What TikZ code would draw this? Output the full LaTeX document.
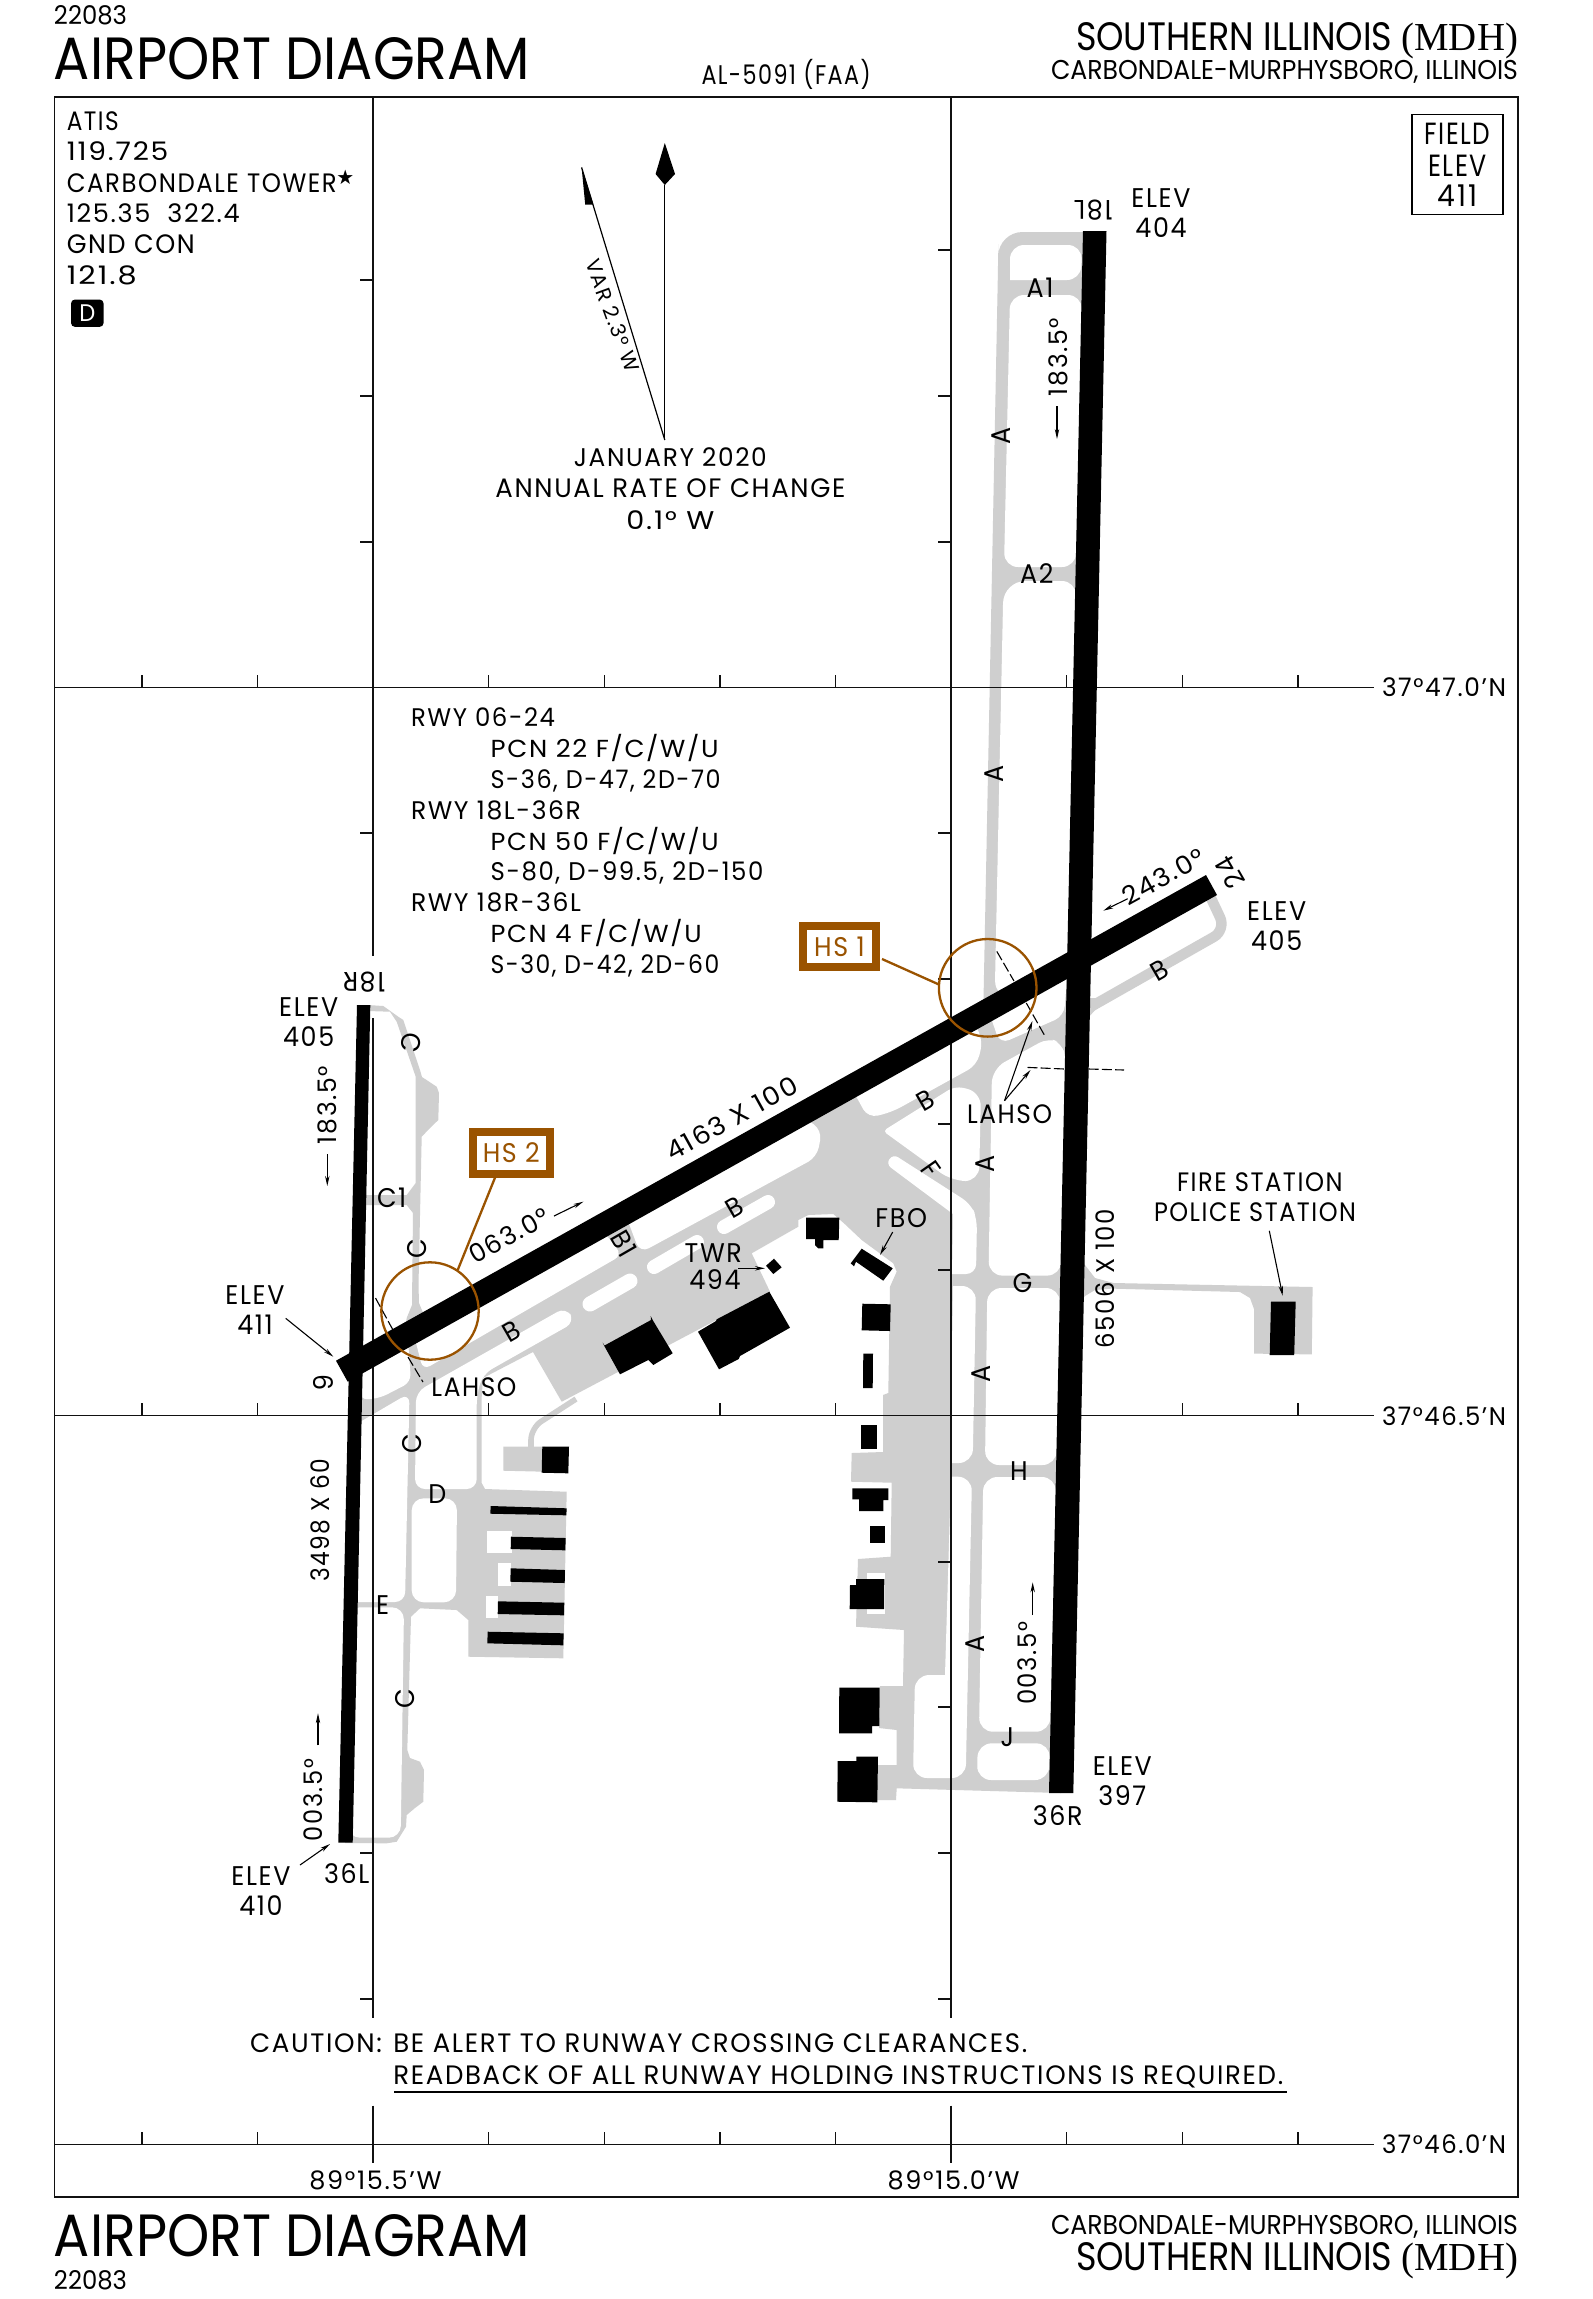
\documentclass[tikz,border=0pt]{standalone}
\usepackage{fontspec}
\usepackage{graphicx}
\usetikzlibrary{arrows.meta}
\setmainfont[FakeStretch=0.94,LetterSpace=6,Numbers=Monospaced]{Poppins}
\newfontfamily\tight[FakeStretch=0.9]{Poppins}
\newfontfamily\mdhfont{Liberation Serif}
\newfontfamily\symfont{DejaVu Sans}
\definecolor{tx}{HTML}{CFCFCF}
\definecolor{hs}{HTML}{9A5300}
\definecolor{ink}{HTML}{111111}
\newcounter{tn}
\tikzset{
  lbl/.style={inner sep=0pt,outer sep=0pt,text=black,font=\fontsize{13.5}{13.5}\selectfont},
  gridln/.style={draw=ink,line width=0.7pt},
  lead/.style={draw=black,line width=0.55pt,-{Stealth[length=5pt,width=2.2pt]}},
  holdln/.style={draw=black,line width=0.55pt,dash pattern=on 5pt off 1.6pt},
  hsln/.style={draw=hs,line width=1.15pt},
}
\newcommand{\TT}[4][]{\stepcounter{tn}\node[lbl,name=t\arabic{tn},#1] at (#2,#3) {#4};}
\newcommand{\TB}[4][]{\stepcounter{tn}\node[lbl,anchor=base,name=t\arabic{tn},#1] at (#2,#3) {#4};}
\newcommand{\TL}[4][]{\stepcounter{tn}\node[lbl,anchor=base west,name=t\arabic{tn},#1] at (#2,#3) {#4};}
\newcommand{\TR}[4][]{\stepcounter{tn}\node[lbl,anchor=base east,name=t\arabic{tn},#1] at (#2,#3) {#4};}
\newcommand{\rsz}[3]{\resizebox{#1pt}{#2pt}{#3}}
\newcommand{\rf}[2]{\resizebox{#1pt}{9.4pt}{#2}}
\begin{document}
\begin{tikzpicture}[x=0.5pt,y=-0.5pt]
\useasboundingbox (0,0) rectangle (1593,2299);
\fill[white] (0,0) rectangle (1593,2299);

%% ---- taxiways, aprons: grey outlines ----
\fill[tx,rounded corners=12pt] (1095,232) -- (998.5,232) -- (998,268) [sharp corners] -- (983.5,1000) -- (985,1012) -- (1079,959) -- cycle;
\fill[tx] (1079,959) -- (1061,1793) -- (896.7,1788.3) -- (896,1800) -- (876.7,1800) -- (878,1765) -- (896.7,1765) -- (896.7,1730) -- (879,1728) -- (880,1686) -- (903,1686) -- (904,1630) -- (856,1626.7)
  -- (858,1559) -- (890.7,1556.7) -- (891.7,1482.7) -- (851,1481.7) -- (851.7,1453) -- (883,1452) -- (883,1395) -- (888.3,1393) -- (890,1286.7) -- (896.7,1271.7) -- (893.3,1263.3) -- (861.7,1240) -- (844,1223.3) -- (833.3,1214) -- (808.3,1215) -- (798.3,1220) -- (798.3,1226.7) -- (751.7,1253.3) -- (770,1291.7)
  -- (561.7,1401.7) -- (533,1352) -- (483,1378) -- (481.7,1397) -- (481.7,1483) -- (485,1489) -- (566.7,1491.7) -- (563.3,1658.3) -- (468.3,1656.7) -- (468.3,1620) -- (456.7,1610) -- (420,1608.3) -- (411,1616.7) -- (407.3,1750) -- (410,1758) -- (420,1761.7) -- (424,1770) -- (423.3,1801.7) -- (415,1808) -- (406.7,1815) -- (406,1826.7) -- (396.7,1841.7) -- (386.7,1843.3) -- (345,1843) -- (350,1369) -- cycle;
% C north of runway 06-24
\fill[tx] (368,1005) -- (383.3,1006) -- (398.3,1016.7) -- (403.3,1020) -- (420,1070) -- (422,1077) -- (436.7,1086.7) -- (439,1093) -- (438.3,1120) -- (430,1128) -- (421.7,1136.7) -- (418.5,1285) -- (419,1303) -- (424,1315) -- (405,1330) -- (406.7,1318) -- (412,1305) -- (413,1213) -- (406.7,1205) -- (362,1205) -- (362,1195) -- (406.7,1195) -- (415.7,1183) -- (415.7,1076.7) -- (396.7,1021.7) -- (390,1011.7) -- (368,1011) -- cycle;
% B east of 18L
\draw[tx,line width=5.2pt,rounded corners=7pt] (1085,1010) -- (1226,930) -- (1210,896);
\fill[tx] (1080,998) -- (1100,998) -- (1096,1009) -- (1088,1018) -- (1080,1030) -- cycle;
% G east and fire station apron
\fill[tx] (1078,1262) -- (1085,1265) -- (1095,1278) -- (1113.6,1283) -- (1312.6,1287) -- (1311.8,1354.4) -- (1254,1353.6) -- (1254,1309) -- (1250,1298) -- (1240,1292) -- (1111.6,1288.6) -- (1095,1290) -- (1085,1296) -- (1078,1305) -- cycle;
% taxi to the T-hangar block
\draw[tx,line width=2.8pt,rounded corners=6pt] (531,1450) -- (531,1428) -- (576,1399);
\fill[tx] (503.3,1446.7) -- (545,1446.7) -- (545,1471.7) -- (503.3,1470.7) -- cycle;

%% ---- islands ----
\begin{scope}[white]
\fill[rounded corners=7pt] (1010,280) [sharp corners] -- (1010,280) [rounded corners=7pt] -- (1010,245) -- (1082,245) -- (1081,280) [sharp corners] -- cycle;
\fill[rounded corners=7pt] (1010,295) -- (1082,295) -- (1076,567) -- (1004,567) -- cycle;
\fill[rounded corners=7pt] (1003.5,581) -- (1076,581) -- (1074,961) [rounded corners=11pt] -- (994.6,1002) -- cycle;
\fill[rounded corners=5pt] (988,1009) -- (1000,1044) -- (1064,1016) -- (1068,965) -- cycle;
\fill[rounded corners=5pt] (992,1069) -- (1048,1038) -- (1062,1043) -- (1066,1060) [rounded corners=7pt] -- (1061,1275.6) -- (988.5,1275.6) -- cycle;
\fill[rounded corners=7pt] (987.3,1288) -- (1060,1288) -- (1056.5,1465) -- (985,1465) -- cycle;
\fill[rounded corners=4pt] (883,1131) -- (955,1086) [rounded corners=7pt] -- (981,1092) -- (979,1181) -- (952,1181) [rounded corners=2pt] -- cycle;
\fill[rounded corners=5pt] (850,1085) -- (868,1118) -- (892,1112) -- (977,1065) -- (983,1040) -- (970,1015) -- cycle;
\fill[rounded corners=3pt] (893,1154) [rounded corners=5pt] -- (971,1204) -- (977,1219) -- (976,1274) [sharp corners] -- (952,1274) -- (953,1214) [rounded corners=3pt] -- (886,1164) -- cycle;
\fill (953,1286) [rounded corners=7pt] -- (976,1286) -- (972.7,1463) [sharp corners] -- (950,1463) -- cycle;
\fill (951,1476.7) [rounded corners=7pt] -- (972,1476.7) -- (965.7,1778) -- (913,1778) -- (915,1675) [sharp corners] -- (945,1675) -- cycle;
\fill[rounded corners=7pt] (983.3,1477) -- (1056,1477) -- (1050,1731.7) -- (979,1731.7) -- cycle;
\fill[rounded corners=7pt] (977.7,1743.3) -- (1050,1743.3) -- (1049,1780) -- (977,1780) -- cycle;
\fill[rounded corners=4pt] (360,1360) -- (360,1400) -- (380,1398) -- (411,1382) -- (408,1340) -- cycle;
\fill[rounded corners=4pt] (414,1335) -- (423,1370) -- (622,1255) -- (600,1227) -- (450,1310) -- cycle;
\fill[rounded corners=5pt] (625,1213) -- (640,1253) -- (817,1157) -- (822,1130) -- (800,1115) -- cycle;
\draw[line width=7pt,line cap=round] (724,1227) -- (768,1202);
\draw[line width=7pt,line cap=round] (654,1267) -- (697,1242);
\draw[line width=7.5pt,line cap=round] (590,1304) -- (630,1281);
\fill[rounded corners=5pt] (566,1307) -- (575,1322) -- (483,1374) -- (476.7,1395) -- (476.7,1489) -- (415,1489) -- (416,1392) -- cycle;
\fill[rounded corners=6pt] (348,1607.3) -- (404,1607.3) -- (400.7,1837.7) -- (348,1837.7) -- cycle;
\fill[rounded corners=5pt] (348,1429) -- (409.5,1393) -- (405,1602) -- (348,1602) -- cycle;
\fill[rounded corners=6pt] (411.7,1498.3) -- (457,1498.3) -- (456,1602.3) -- (411.7,1602.3) -- cycle;
\fill (486.7,1531) rectangle (512.3,1553.3);
\fill (498.3,1563.3) rectangle (511.3,1586);
\fill (485.7,1595.7) rectangle (498,1618.3);
\fill (866.7,1573) rectangle (885,1614);
\end{scope}

%% ---- grid ----
\draw[gridln] (54.5,96.8) rectangle (1518,2197);
\draw[gridln] (373,96.8) -- (373,955.7);
\draw[gridln] (373,1018) -- (373,2017.7);
\draw[gridln] (373,2105.7) -- (373,2162.7);
\draw[gridln] (951,96.8) -- (951,2017.7);
\draw[gridln] (951,2105.7) -- (951,2162.7);
\foreach \yy in {687.3,1415.7,2144.5}{
  \draw[gridln] (54.5,\yy) -- (1374,\yy);
  \foreach \xx in {141.8,257.4,488.6,604.2,719.8,835.4,1066.6,1182.2,1297.8}{
    \draw[gridln] (\xx,\yy) -- (\xx,\yy-12.7);
  }
}
\foreach \yy in {280,396,542,833,1853,1999}{\draw[gridln] (373,\yy) -- (360,\yy);}
\foreach \yy in {250,396,542,833,979,1124,1270,1562,1707,1853,1999}{\draw[gridln] (951,\yy) -- (938,\yy);}

%% ---- runways ----
\fill[black] (1083,231) -- (1106.5,231) -- (1073.3,1793) -- (1049,1793) -- cycle;
\fill[black] (357,1005) -- (370.3,1005) -- (352.7,1842.7) -- (338.3,1842.7) -- cycle;
\fill[black] (1206,875) -- (1217,895) -- (347.7,1381.7) -- (336,1360.7) -- cycle;

%% ---- buildings ----
\begin{scope}[black]
\fill (1271,1301.6) -- (1295.7,1301.6) -- (1294.2,1355) -- (1269.7,1355) -- cycle;
\fill (806,1217.7) -- (839.3,1217.7) -- (838.7,1240) -- (823.3,1240) -- (823.3,1248.3) -- (818.3,1248.3) -- (815,1245) -- (815,1239) -- (806,1239) -- cycle;
\fill (861.7,1248.7) -- (892.7,1268.3) -- (883.3,1280.7) -- (856,1261.7) -- (854,1266.3) -- (850.7,1263.3) -- cycle;
\fill (774,1258.7) -- (781.7,1267.3) -- (773.3,1274) -- (766,1265.7) -- cycle;
\fill (862.3,1303.7) -- (890.7,1304.3) -- (890,1331) -- (861.7,1330.3) -- cycle;
\fill (863.3,1353.7) -- (873,1353.7) -- (872.7,1388) -- (863,1388) -- cycle;
\fill (769.3,1291.7) -- (790,1327.7) -- (740,1356) -- (738.7,1359) -- (719,1369.3) -- (698,1331.7) -- (716,1321) -- (716.7,1319.3) -- cycle;
\fill (650.7,1316) -- (652.7,1320) -- (672.7,1353.3) -- (653.3,1365) -- (648.3,1360) -- (620,1374.3) -- (604.3,1346) -- (602.7,1342.7) -- (604.5,1345.5) -- (651,1320) -- cycle;
\fill (861,1425) rectangle (876.7,1449);
\fill (852.3,1488.3) -- (888.3,1488.3) -- (888.3,1500) -- (883.3,1500) -- (883.3,1511) -- (859,1511) -- (859,1499.3) -- (852.3,1499.3) -- cycle;
\fill (870,1525.7) rectangle (885.3,1542.7);
\fill (856,1579) -- (884.3,1579) -- (884,1609) -- (849.7,1609) -- (850,1585) -- (856,1585) -- cycle;
\fill (839.3,1687.7) -- (879.7,1687.7) -- (879.3,1726) -- (872,1726) -- (872,1733.3) -- (839,1733.3) -- cycle;
\fill (856.3,1756.7) -- (878,1756.7) -- (877.3,1802.3) -- (837.3,1801.7) -- (837.7,1761) -- (856.3,1761) -- cycle;
\fill (542.3,1446.7) -- (569,1446.7) -- (568.3,1473.3) -- (541.7,1472.7) -- cycle;
\fill (490.7,1506) -- (566.7,1508.3) -- (566.3,1515.3) -- (490.3,1513.7) -- cycle;
\fill (511,1536.7) -- (565.7,1538) -- (565.3,1550.3) -- (510.7,1549) -- cycle;
\fill (510.7,1568.3) -- (565,1570) -- (564.7,1583) -- (510.3,1581.7) -- cycle;
\fill (498,1601.3) -- (564.3,1602.7) -- (564,1615.3) -- (497.7,1614) -- cycle;
\fill (487.7,1631.7) -- (563.7,1633.3) -- (563.3,1645.3) -- (487.3,1643.3) -- cycle;
\end{scope}

%% ---- hold lines ----
\draw[holdln] (996.8,951.4) -- (1014,981);
\draw[holdln] (1026.3,1003) -- (1044.7,1035.6);
\draw[holdln] (1027.5,1067.4) -- (1064.6,1069);
\draw[holdln] (1088.7,1069) -- (1124,1070);
\draw[holdln] (375.5,1298) -- (393,1330);
\draw[holdln] (408,1357) -- (423,1382);

%% ---- hot spots ----
\draw[hsln] (987.7,987.8) circle [radius=48.8];
\draw[hsln] (430,1311) circle [radius=48.7];
\node[draw=hs,line width=4pt,fill=white,minimum width=36.5pt,minimum height=20.8pt,inner sep=0pt,text=hs,font=\fontsize{13.5}{13.5}\selectfont] (hsa) at (839.5,946.5) {HS 1};
\node[draw=hs,line width=4pt,fill=white,minimum width=38.3pt,minimum height=20.8pt,inner sep=0pt,text=hs,font=\fontsize{13.5}{13.5}\selectfont] (hsb) at (511.3,1152.8) {HS 2};
\coordinate (hsac) at (939.4,984.7);
\coordinate (hsbc) at (457.7,1270);
\draw[hsln] (882,959) -- (hsac);
\draw[hsln] (495,1177.7) -- (hsbc);

%% ---- header / footer ----
\TL{54}{24.5}{\rsz{36.5}{9.5}{\tight 22083}}
\TL{54}{79.5}{\rsz{238}{21}{\tight AIRPORT DIAGRAM}}
\TL{701.5}{84}{\rsz{84.6}{12.6}{AL-5091 (FAA)}}
\TR{1518}{50}{\rsz{221}{14}{\tight\fontsize{18}{18}\selectfont SOUTHERN ILLINOIS {\mdhfont (MDH)}}}
\TR{1518}{79.5}{\rsz{233.5}{9.6}{\tight CARBONDALE-MURPHYSBORO, ILLINOIS}}
\TL{54}{2289.3}{\rsz{36.5}{9.5}{\tight 22083}}
\TL{54}{2256.7}{\rsz{238}{21}{\tight AIRPORT DIAGRAM}}
\TR{1518}{2270.7}{\rsz{221}{14}{\tight\fontsize{18}{18}\selectfont SOUTHERN ILLINOIS {\mdhfont (MDH)}}}
\TR{1518}{2234}{\rsz{233.5}{9.6}{\tight CARBONDALE-MURPHYSBORO, ILLINOIS}}

%% ---- comm block ----
\TL{66.8}{130}{\rf{26}{ATIS}}
\TL{66.8}{160.7}{\rf{50.8}{119.725}}
\TL{66.8}{192}{\rf{135}{CARBONDALE TOWER}}
\TT{345.4}{177}{{\symfont\fontsize{10}{10}\selectfont ★}}
\TL{66.8}{222.8}{\rf{86.5}{125.35\ \ 322.4}}
\TL{66.8}{253.6}{\rf{64}{GND CON}}
\TL{66.8}{284.8}{\rf{35}{121.8}}
\node[fill=black,rounded corners=2pt,minimum width=16.3pt,minimum height=13.7pt,inner sep=0pt,text=white,font=\fontsize{12}{12}\selectfont] (dbox) at (87.3,313.2) {D};

%% ---- north arrows ----
\coordinate (vtx) at (664.8,440);
\fill[black] (664.8,143) -- (675,174) -- (664.8,185) -- (655.6,174) -- cycle;
\draw[black,line width=0.6pt] (vtx) -- (664.8,185);
\draw[black,line width=0.6pt] (vtx) -- (581.6,167.4);
\fill[black] (581.6,167.4) -- (593.4,204.5) -- (585.2,204.5) -- cycle;
\TT[rotate=-70]{612.8}{315.6}{\rsz{59.3}{7.6}{VAR 2.3° W}}
\TB{670.4}{466.5}{\rf{96.4}{JANUARY 2020}}
\TB{670.4}{497.8}{\rf{175}{ANNUAL RATE OF CHANGE}}
\TB{670.4}{529}{\rf{44}{0.1° W}}

%% ---- field elev ----
\node[draw=black,line width=0.7pt,minimum width=45.5pt,minimum height=49.8pt,inner sep=0pt] (fbox) at (1457.5,164.5) {};
\TB{1457.5}{144.2}{\rsz{33}{10.7}{FIELD}}
\TB{1457.5}{176}{\rsz{29.5}{10.7}{ELEV}}
\TB{1457.5}{206.7}{\fontsize{15}{15}\selectfont 411}

%% ---- lat/long ----
\TL{1382}{696.7}{\rf{62}{37°47.0'N}}
\TL{1382}{1425.5}{\rf{62}{37°46.5'N}}
\TL{1382}{2153.5}{\rf{62}{37°46.0'N}}
\TB{375.5}{2189.3}{\rf{66}{89°15.5'W}}
\TB{953.7}{2189.3}{\rf{66}{89°15.0'W}}

%% ---- notes ----
\TL{411}{726.7}{\rf{72}{RWY 06-24}}
\TL{490.7}{757.3}{\rsz{114}{11.6}{PCN 22 F/C/W/U}}
\TL{490.7}{788.3}{\rf{115}{S-36, D-47, 2D-70}}
\TL{411}{819}{\rf{85}{RWY 18L-36R}}
\TL{490.7}{850}{\rsz{114}{11.6}{PCN 50 F/C/W/U}}
\TL{490.7}{880.7}{\rf{136.3}{S-80, D-99.5, 2D-150}}
\TL{411}{911.7}{\rf{85}{RWY 18R-36L}}
\TL{490.7}{942.7}{\rsz{105.5}{11.6}{PCN 4 F/C/W/U}}
\TL{490.7}{973.3}{\rf{114.3}{S-30, D-42, 2D-60}}
\TL{250}{2052.7}{\rf{66}{CAUTION:}}
\TL{393.3}{2052.7}{\rf{317}{BE ALERT TO RUNWAY CROSSING CLEARANCES.}}
\TL{393.3}{2084.3}{\rf{445}{READBACK OF ALL RUNWAY HOLDING INSTRUCTIONS IS REQUIRED.}}
\draw[black,line width=0.8pt] (394.3,2092) -- (1286.7,2092);

%% ---- runway labels ----
\TT[rotate=180]{1093.4}{210}{18L}
\TB{1161}{207.6}{ELEV}
\TB{1161}{237.5}{404}
\TT{1040}{288}{A1}
\TT{1036.7}{573.7}{A2}
\TT[rotate=90]{1058}{357}{\rf{39}{183.5°}}
\draw[lead] (1057,406) -- (1057,439);
\TT[rotate=90]{1001.3}{436}{A}
\TT[rotate=90]{994}{774}{A}
\TT[rotate=90]{985.4}{1163.8}{A}
\TT[rotate=90]{981.5}{1374.3}{A}
\TT[rotate=90]{975}{1644.3}{A}
\TT[rotate=180]{364}{981.7}{18R}
\TB{308.7}{1016.7}{ELEV}
\TB{308.7}{1046.7}{405}
\TT[rotate=90]{327.3}{1105}{\rf{39}{183.5°}}
\draw[lead] (327.3,1154) -- (327.3,1186);
\TT[rotate=-100]{410.7}{1042.7}{C}
\TT{391.7}{1197.3}{C1}
\TT[rotate=90]{416.7}{1248.3}{C}
\TT[rotate=90]{412.3}{1443.3}{C}
\TT[rotate=90]{405}{1698.3}{C}
\TT{437.3}{1494}{D}
\TT{382.7}{1605}{E}
\TT[rotate=29]{509}{1235.5}{\rf{43.5}{063.0°}}
\draw[lead] (554,1216) -- (583.3,1201.7);
\TT[rotate=-60]{624}{1243.3}{B1}
\TT[rotate=30]{511.7}{1331.7}{B}
\TT[rotate=30]{734.3}{1207.3}{B}
\TT[rotate=30]{925.3}{1100.7}{B}
\TT[rotate=30]{1159.5}{970.5}{B}
\TT[rotate=-55]{930.6}{1169.6}{F}
\TT[rotate=29]{731.7}{1118.3}{\rf{73}{4163 X 100}}
\TT{474}{1386.7}{\rf{42.5}{LAHSO}}
\TT[rotate=-90]{323.3}{1382.7}{6}
\TB{255}{1304}{ELEV}
\TB{255}{1334}{411}
\draw[lead] (285.7,1318.3) -- (333.3,1356.7);
\TT[rotate=90]{320.7}{1520}{\rf{61.5}{3498 X 60}}
\TT[rotate=90]{313.3}{1800}{\rf{41}{003.5°}}
\draw[lead] (318,1745.3) -- (318,1713.3);
\TB{261}{1885}{ELEV}
\TB{261}{1915}{410}
\draw[lead] (300,1865) -- (330,1844);
\TT{346.7}{1873.3}{36L}
\TT{1009.5}{1114}{\rf{42.5}{LAHSO}}
\draw[lead] (1004.5,1100.7) -- (1032.4,1021);
\draw[lead] (1004.5,1100.7) -- (1030.5,1070);
\TT{1022.5}{1283}{G}
\TT{901.2}{1218}{FBO}
\draw[lead] (892.7,1232) -- (880,1255);
\TT{713.3}{1252.7}{TWR}
\TT{715}{1280}{494}
\draw[lead] (738.3,1268.3) -- (765,1268.3);
\TT{1259.8}{1182}{\rf{82.8}{FIRE STATION}}
\TT{1255}{1212.4}{\rf{101}{POLICE STATION}}
\draw[lead] (1269.3,1230.8) -- (1282.7,1295.8);
\TT[rotate=90]{1105}{1278.6}{\rf{69.5}{6506 X 100}}
\TB{1276.7}{920}{ELEV}
\TB{1276.7}{950}{405}
\TT[rotate=120]{1230}{872.7}{24}
\TT[rotate=29]{1163.3}{876.7}{\rf{45}{243.0°}}
\draw[lead] (1127.7,898.7) -- (1103.3,910.7);
\TT{1019}{1471}{H}
\TT{1007.3}{1737.3}{J}
\TT[rotate=90]{1027.3}{1663.3}{\rf{41.5}{003.5°}}
\draw[lead] (1032.7,1615) -- (1032.7,1582.3);
\TT{1057.7}{1816}{36R}
\TB{1122.3}{1775}{ELEV}
\TB{1122.3}{1805}{397}
\end{tikzpicture}
\end{document}
